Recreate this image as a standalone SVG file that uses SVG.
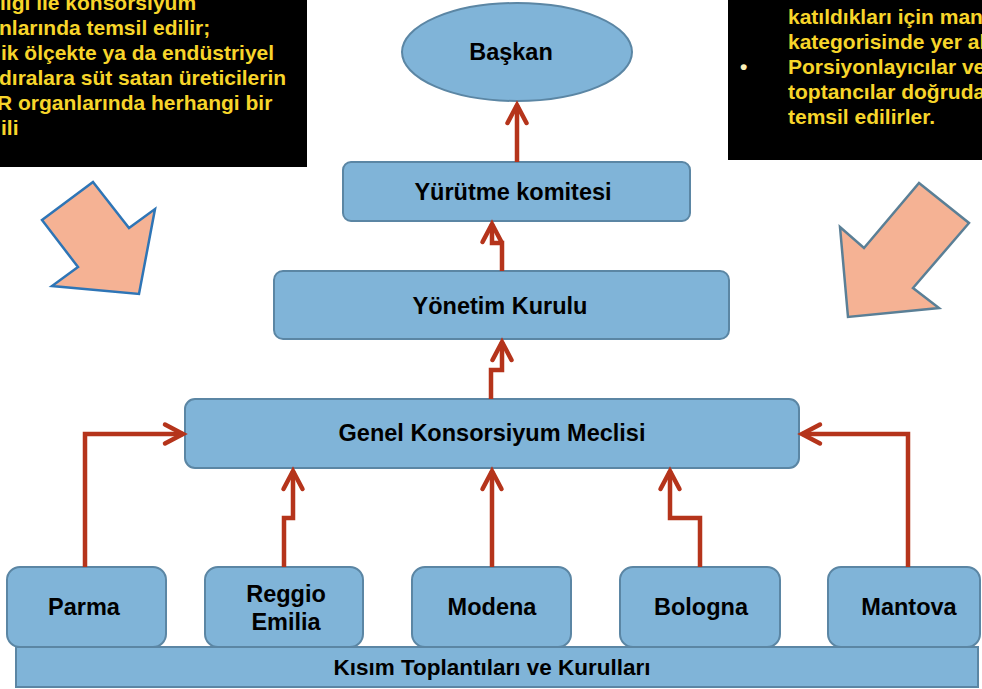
<svg xmlns="http://www.w3.org/2000/svg" width="982" height="689" viewBox="0 0 982 689">
<style>
.box{fill:#80B4D8;stroke:#5B86A4;stroke-width:2}
.lbl{font-family:"Liberation Sans",Arial,sans-serif;font-weight:bold;font-size:23.5px;fill:#000;text-anchor:middle;dominant-baseline:central}
.note{font-family:"Liberation Sans",Arial,sans-serif;font-weight:bold;font-size:21px;fill:#F7D52A}
.con{fill:none;stroke:#B5341B;stroke-width:4.5;stroke-linejoin:miter;marker-end:url(#arr)}
.big{fill:#F5B294;stroke-width:2.5;stroke-linejoin:miter}
</style>
<defs>
<marker id="arr" markerUnits="userSpaceOnUse" orient="auto" refX="0" refY="0" markerWidth="30" markerHeight="30" overflow="visible">
<path d="M-18,-9.5 L0,0 L-18,9.5" fill="none" stroke="#B5341B" stroke-width="4.5" stroke-linecap="round" stroke-linejoin="miter"/>
</marker>
</defs>
<rect width="982" height="689" fill="#fff"/>

<g id="note-left">
<rect x="0" y="0" width="307" height="167" fill="#000"/>
<text class="note" x="0" y="10">ligi ile konsorsiyum</text>
<text class="note" x="-1" y="35">nlarında temsil edilir;</text>
<text class="note" x="1" y="60">ik ölçekte ya da endüstriyel</text>
<text class="note" x="-1" y="85">dıralara süt satan üreticilerin</text>
<text class="note" x="-3" y="110">R organlarında herhangi bir</text>
<text class="note" x="1" y="135">ili</text>
</g>

<g id="note-right">
<rect x="728" y="0" width="254" height="160" fill="#000"/>
<text class="note" x="788" y="24">katıldıkları için mandıra</text>
<text class="note" x="788" y="49">kategorisinde yer alırlar.</text>
<text class="note" x="740" y="74" style="fill:#FBEFB8">•</text>
<text class="note" x="788" y="74">Porsiyonlayıcılar ve</text>
<text class="note" x="788" y="99">toptancılar doğrudan</text>
<text class="note" x="788" y="124">temsil edilirler.</text>
</g>

<g id="arrow-left">
<polygon class="big" stroke="#2E75B6" points="93,182 129,228 155,209 139,294 52,286 78,267 42,220"/>
</g>
<g id="arrow-right">
<polygon class="big" stroke="#5A7F96" points="919,183 969,223 913,288 939,308 848,317 840,227 864,248"/>
</g>

<g id="baskan">
<ellipse class="box" cx="517" cy="52" rx="115" ry="49"/>
<text class="lbl" x="511" y="52">Başkan</text>
</g>
<g id="yurutme">
<rect class="box" x="343" y="162" width="347" height="59" rx="8"/>
<text class="lbl" x="513" y="192">Yürütme komitesi</text>
</g>
<g id="yonetim">
<rect class="box" x="274" y="271" width="455" height="68" rx="9"/>
<text class="lbl" x="500" y="306">Yönetim Kurulu</text>
</g>
<g id="genel">
<rect class="box" x="185" y="399" width="614" height="69" rx="10"/>
<text class="lbl" x="492" y="433">Genel Konsorsiyum Meclisi</text>
</g>
<g id="parma">
<rect class="box" x="7" y="567" width="159" height="80" rx="13"/>
<text class="lbl" x="84" y="607">Parma</text>
</g>
<g id="reggio">
<rect class="box" x="205" y="567" width="158" height="80" rx="13"/>
<text class="lbl" x="286" y="594">Reggio</text>
<text class="lbl" x="286" y="622">Emilia</text>
</g>
<g id="modena">
<rect class="box" x="412" y="567" width="159" height="80" rx="13"/>
<text class="lbl" x="492" y="607">Modena</text>
</g>
<g id="bologna">
<rect class="box" x="620" y="567" width="160" height="80" rx="13"/>
<text class="lbl" x="701" y="607">Bologna</text>
</g>
<g id="mantova">
<rect class="box" x="828" y="567" width="152" height="80" rx="13"/>
<text class="lbl" x="909" y="607">Mantova</text>
</g>
<g id="kisim">
<rect class="box" x="16" y="647" width="962" height="40"/>
<text class="lbl" x="492" y="667" style="font-size:22.5px">Kısım Toplantıları ve Kurulları</text>
</g>

<g id="connectors">
<path class="con" d="M517,162 V105"/>
<path class="con" d="M502,271 V243 H492 V224"/>
<path class="con" d="M491,399 V370 H502 V342"/>
<path class="con" d="M85,567 V434 H183"/>
<path class="con" d="M284,567 V518 H293 V471"/>
<path class="con" d="M492,567 V471"/>
<path class="con" d="M700,567 V518 H670 V471"/>
<path class="con" d="M908,567 V434 H802"/>
</g>
</svg>
